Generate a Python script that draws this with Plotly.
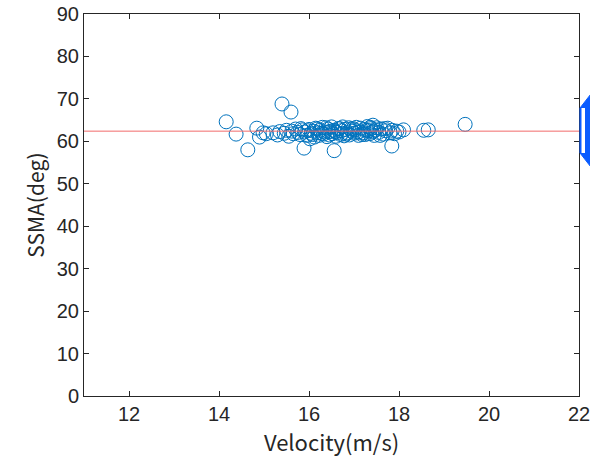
import plotly.graph_objects as go

# Measured velocity (m/s) and SSMA (deg) per sample
velocity = [
    14.16, 14.38, 14.64, 14.84, 14.90, 14.98,
    15.05, 15.20, 15.30, 15.35, 15.40, 15.45, 15.50, 15.60,
    15.55, 15.62, 15.65, 15.70, 15.75, 15.80, 15.85, 15.89, 15.90, 15.95,
    16.00, 16.05, 16.10, 16.12, 16.15, 16.20, 16.22, 16.25, 16.30, 16.32,
    16.35, 16.40, 16.42, 16.45, 16.48,
    16.50, 16.52, 16.55, 16.56, 16.60, 16.62, 16.65, 16.70, 16.72, 16.75,
    16.78, 16.80, 16.85, 16.88, 16.90, 16.95, 16.98,
    17.00, 17.02, 17.05, 17.10, 17.12, 17.15, 17.20, 17.22, 17.25, 17.30,
    17.32, 17.35, 17.38, 17.40, 17.42, 17.45, 17.48,
    17.50, 17.55, 17.60, 17.65, 17.70, 17.75, 17.80, 17.84, 17.85, 17.90,
    17.95, 18.00, 18.10, 18.55, 18.65, 19.47,
    15.82, 15.97, 16.08, 16.18, 16.28, 16.38, 16.58, 16.68, 16.83, 16.93,
    17.08, 17.18, 17.28, 17.44, 17.58, 17.68, 16.02, 16.44, 16.74, 17.36,
]
ssma = [
    64.6, 61.7, 58.0, 63.1, 61.0, 62.0,
    61.8, 62.0, 61.5, 62.3, 68.8, 61.9, 62.6, 66.9,
    61.2, 62.4, 61.8, 62.9, 62.1, 61.6, 62.7, 58.4, 62.2, 61.4,
    62.8, 61.9, 62.4, 61.0, 63.1, 62.0, 61.4, 62.6, 63.3, 61.7,
    62.2, 61.1, 62.9, 61.5, 62.4,
    63.4, 61.8, 62.6, 57.8, 61.2, 62.1, 63.0, 61.6, 62.5, 63.4,
    61.3, 62.8, 62.0, 63.2, 61.5, 62.4, 63.0,
    61.9, 62.7, 63.3, 61.4, 62.3, 63.1, 62.0, 62.8, 61.6, 63.5,
    62.5, 61.8, 63.0, 62.2, 63.8, 61.4, 62.7,
    63.2, 62.1, 62.9, 61.7, 62.5, 63.1, 62.0, 58.9, 62.6, 61.8,
    62.4, 62.2, 62.7, 62.6, 62.7, 64.0,
    63.0, 62.5, 61.6, 62.9, 61.9, 63.2, 62.3, 63.0, 61.7, 62.9,
    62.1, 61.6, 62.6, 62.4, 61.4, 63.0, 60.6, 62.2, 61.9, 63.3,
]

mean_ssma = 62.4

x_ticks = [12, 14, 16, 18, 20, 22]
y_ticks = [0, 10, 20, 30, 40, 50, 60, 70, 80, 90]

tick_font = "Liberation Sans, Arial, sans-serif"
title_font = "Noto Sans CJK JP"
axis_color = "#262626"

fig = go.Figure()
fig.add_trace(go.Scatter(
    x=velocity, y=ssma, mode="markers",
    marker=dict(symbol="circle-open", size=14, color="#0072BD",
                line=dict(width=1, color="#0072BD")),
    showlegend=False, hoverinfo="x+y",
))

# Horizontal reference line at the mean value
fig.add_shape(type="line", xref="paper", yref="y", x0=0, x1=1,
              y0=mean_ssma, y1=mean_ssma,
              line=dict(color="#f26a6a", width=1), layer="above")

# Blue double-headed arrow at the right edge
L, T, W, H = 84, 14, 495, 382
def px(x, y):
    return (x - L) / W, (T + H - y) / H
pts = [(580, 108), (594, 90), (608, 108),
       (608, 153), (594, 171), (580, 153)]
path = "M " + " L ".join(f"{px(a, b)[0]:.5f},{px(a, b)[1]:.5f}" for a, b in pts) + " Z"
fig.add_shape(type="path", xref="paper", yref="paper", path=path,
              fillcolor="#0a5cff", line=dict(color="#0a5cff", width=1), layer="above")
x0, y0 = px(581.5, 108)
x1, y1 = px(585, 153)
fig.add_shape(type="rect", xref="paper", yref="paper", x0=x0, x1=x1, y0=y1, y1=y0,
              fillcolor="white", line=dict(width=0), layer="above")

fig.update_layout(
    width=590, height=460,
    margin=dict(l=L, r=590 - L - W, t=T, b=460 - T - H, autoexpand=False),
    paper_bgcolor="white", plot_bgcolor="white",
    font=dict(family=tick_font, size=19, color=axis_color),
)
fig.update_xaxes(
    range=[11, 22], tickvals=x_ticks, ticks="inside", ticklen=5, tickwidth=1,
    tickcolor=axis_color, showline=True, linecolor=axis_color, linewidth=1,
    mirror="ticks", showgrid=False, zeroline=False, ticklabeloverflow="allow",
    title=dict(text="Velocity(m/s)", standoff=5,
               font=dict(family=title_font, size=22)),
    tickfont=dict(size=20),
)
fig.update_yaxes(
    range=[0, 90], tickvals=y_ticks, ticks="inside", ticklen=5, tickwidth=1,
    tickcolor=axis_color, showline=True, linecolor=axis_color, linewidth=1,
    mirror="ticks", showgrid=False, zeroline=False, ticklabeloverflow="allow",
    title=dict(text="SSMA(deg)", standoff=6,
               font=dict(family=title_font, size=21)),
    tickfont=dict(size=20),
)

fig.write_html("out.html")
